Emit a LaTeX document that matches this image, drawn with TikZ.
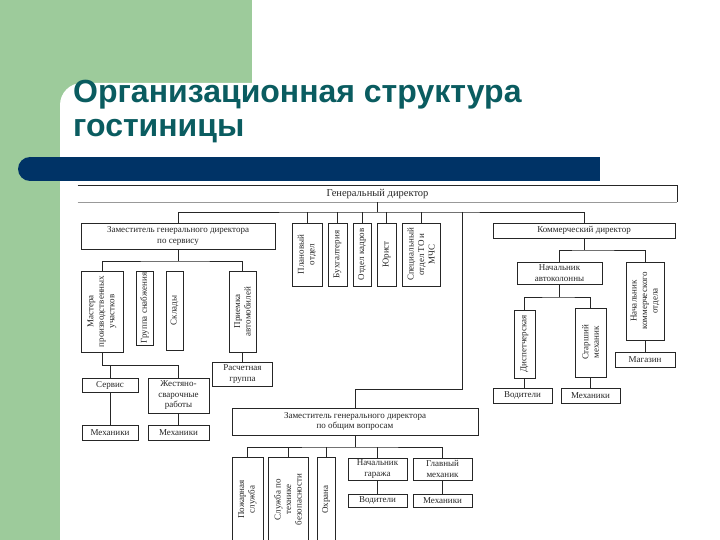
\documentclass[tikz,border=0pt]{standalone}
\usepackage{fontspec}
\setmainfont{Liberation Serif}
\newfontfamily\titlefont{Liberation Sans}
\usetikzlibrary{calc}
\definecolor{slidegreen}{RGB}{157,203,155}
\definecolor{barblue}{RGB}{0,51,102}
\definecolor{titleteal}{RGB}{10,92,96}
\newcommand\chartfont{\fontsize{9}{10.5}\selectfont}

\tikzset{
  box/.style={draw=black!85, line width=0.6pt, fill=white, inner sep=0pt,
    align=center, text=black!85, font=\chartfont},
  wh/.style 2 args={minimum width=#1pt, minimum height=#2pt},
  vtext/.style={label={[rotate=90, align=center, text=black!85, font=\chartfont]center:#1}},
  link/.style={draw=black!85, line width=0.6pt},
}

\begin{document}
\begin{tikzpicture}[x=1pt,y=-1pt]
  \useasboundingbox (0,0) rectangle (720,540);
  % slide background
  \fill[slidegreen] (0,0) rectangle (252,130);
  \fill[slidegreen] (0,0) rectangle (60,540);
  \fill[white, rounded corners=22pt] (300,83) -- (60,83) -- (60,600) -- (760,600) -- (760,83) -- cycle;
  \fill[barblue] (30,157) rectangle (600,181);
  \fill[barblue] (30,169) circle[radius=12pt];
  \node[anchor=north west, align=left, inner sep=0pt, text=titleteal,
    font=\titlefont\bfseries\fontsize{32}{34}\selectfont] (title) at (73,80)
    {Организационная структура\\гостиницы};

  % top level
  \node[box, draw=none, wh={599}{16}, font=\fontsize{10.5}{12}\selectfont] (gd) at (377.5,194) {Генеральный директор};
  \draw[link] (gd.north west) -- (gd.north east) -- (gd.south east);
  \draw[black!40, line width=0.5pt] (gd.south west) -- (gd.south east);
  \coordinate (gdbus) at (377.5,212);

  \node[box, wh={194}{26}] (zs) at (178,236) {Заместитель генерального директора\\по сервису};
  \node[box, wh={30}{63}, vtext={Плановый\\отдел}] (plan) at (307,254.5) {};
  \node[box, wh={19}{63}, vtext={Бухгалтерия}] (buh) at (337.5,254.5) {};
  \node[box, wh={18}{63}, vtext={Отдел кадров}] (kadry) at (362,254.5) {};
  \node[box, wh={19}{63}, vtext={Юрист}] (yur) at (386.5,254.5) {};
  \node[box, wh={38}{63}, vtext={Специальный\\отдел ТО и\\МЧС}] (spec) at (421,254.5) {};
  \node[box, wh={182}{15}] (kd) at (584,230.5) {Коммерческий директор};

  \draw[link] (gd.south) -- (gdbus);
  \draw[link] (zs.north) |- (gdbus) -| (kd.north);
  \foreach \n in {plan,buh,kadry,yur,spec}
    \draw[link] (\n.north) -- (\n.north |- gdbus);

  % service branch
  \node[box, wh={42}{81}, vtext={Мастера\\производственных\\участков}] (mastera) at (102,311.5) {};
  \node[box, wh={17}{74}, vtext={Группа снабжения}] (snab) at (144.5,308) {};
  \node[box, wh={17}{79}, vtext={Склады}] (sklad) at (174.5,310.5) {};
  \node[box, wh={27}{81}, vtext={Приемка\\автомобилей}] (priem) at (242.5,311.5) {};
  \node[box, wh={60}{24}] (rasch) at (242.5,374) {Расчетная\\группа};
  \node[box, wh={56}{14}] (servis) at (110,385) {Сервис};
  \node[box, wh={61}{35}] (zhest) at (178.5,395.5) {Жестяно-\\сварочные\\работы};
  \node[box, wh={56}{15}] (mex1) at (110,432.5) {Механики};
  \node[box, wh={61}{15}] (mex2) at (178.5,432.5) {Механики};
  \coordinate (zsbus) at (178,261);
  \coordinate (msbus) at (178.5,365);

  \draw[link] (zs.south) -- (zsbus);
  \draw[link] (mastera.north) |- (zsbus) -| (priem.north);
  \draw[link] (priem.south) -- (rasch.north);
  \draw[link] (mastera.south) |- (msbus) -- (zhest.north);
  \draw[link] (servis.north) -- (servis.north |- msbus);
  \draw[link] (servis.south) -- (mex1.north);
  \draw[link] (zhest.south) -- (mex2.north);

  % commercial branch
  \node[box, wh={85}{22}] (na) at (559.5,273) {Начальник\\автоколонны};
  \node[box, wh={38}{78}, vtext={Начальник\\коммерческого\\отдела}] (nko) at (645,301) {};
  \node[box, wh={60}{15}] (mag) at (645,359.5) {Магазин};
  \node[box, wh={21}{68}, vtext={Диспетчерская}] (disp) at (524.5,344) {};
  \node[box, wh={31}{69}, vtext={Старший\\механик}] (stmex) at (590.5,342.5) {};
  \node[box, wh={59}{15}] (vod1) at (522.5,395.5) {Водители};
  \node[box, wh={59}{15}] (mex3) at (590.5,395.5) {Механики};
  \coordinate (kdbus) at (584,250);
  \coordinate (nabus) at (559.5,297);

  \draw[link] (kd.south) -- (kdbus);
  \draw[link] (na.north) |- (kdbus) -| (nko.north);
  \draw[link] (nko.south) -- (mag.north);
  \draw[link] (na.south) -- (nabus);
  \draw[link] (disp.north) |- (nabus) -| (stmex.north);
  \draw[link] (disp.south) -- (disp.south |- vod1.north);
  \draw[link] (stmex.south) -- (mex3.north);

  % general affairs branch
  \node[box, wh={246}{27}] (zo) at (355,421.5) {Заместитель генерального директора\\по общим вопросам};
  \node[box, wh={31}{85}, vtext={Пожарная\\служба}] (pozh) at (247.5,499.5) {};
  \node[box, wh={40}{85}, vtext={Служба по\\технике\\безопасности}] (tb) at (288,499.5) {};
  \node[box, wh={18}{85}, vtext={Охрана}] (ohr) at (326,499.5) {};
  \node[box, wh={59}{22}] (ngar) at (377.5,469) {Начальник\\гаража};
  \node[box, wh={59}{13}] (vod2) at (377.5,500.5) {Водители};
  \node[box, wh={59}{22}] (glmex) at (442.5,469) {Главный\\механик};
  \node[box, wh={59}{13}] (mex4) at (442.5,500.5) {Механики};
  \coordinate (turn) at (462,389);
  \coordinate (zobus) at (355,447);

  \draw[link] (turn |- gdbus) -- (turn) -| (zo.north);
  \draw[link] (zo.south) -- (zobus);
  \draw[link] (pozh.north) |- (zobus) -| (glmex.north);
  \foreach \n in {tb,ohr,ngar}
    \draw[link] (\n.north) -- (\n.north |- zobus);
  \draw[link] (ngar.south) -- (vod2.north);
  \draw[link] (glmex.south) -- (mex4.north);
\end{tikzpicture}
\end{document}
